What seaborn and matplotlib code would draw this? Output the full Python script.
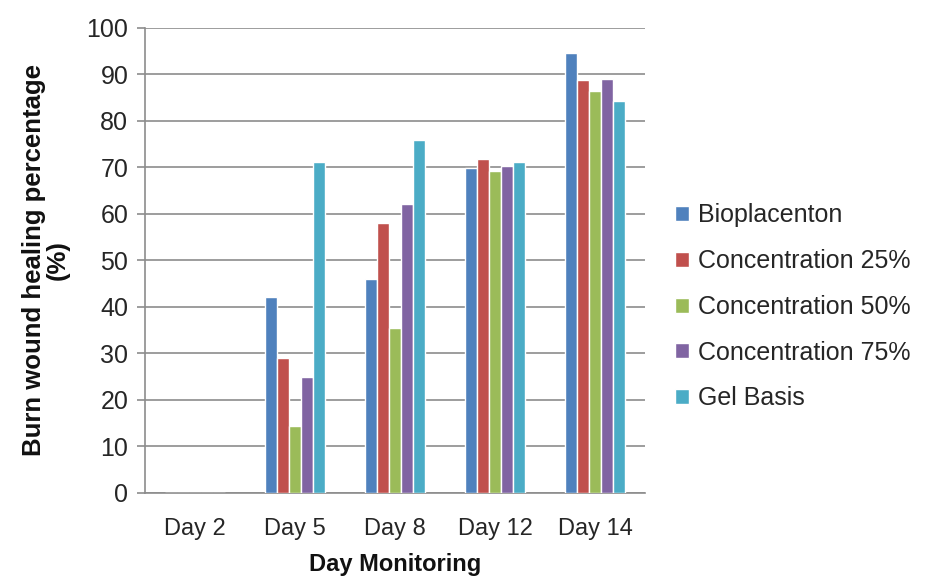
import matplotlib
matplotlib.use("Agg")
import matplotlib.pyplot as plt
import seaborn as sns
import pandas as pd

days = ["Day 2", "Day 5", "Day 8", "Day 12", "Day 14"]
bioplacenton = [0, 42.1, 45.9, 69.9, 94.6]
conc_25 = [0, 29.1, 58.1, 71.9, 88.7]
conc_50 = [0, 14.3, 35.4, 69.3, 86.4]
conc_75 = [0, 25.0, 62.1, 70.3, 88.9]
gel_basis = [0, 71.1, 75.9, 71.1, 84.2]

series = {
    "Bioplacenton": bioplacenton,
    "Concentration 25%": conc_25,
    "Concentration 50%": conc_50,
    "Concentration 75%": conc_75,
    "Gel Basis": gel_basis,
}
colors = ["#4F81BD", "#C0504D", "#9BBB59", "#8064A2", "#4BACC6"]

rows = []
for name, vals in series.items():
    for d, v in zip(days, vals):
        rows.append({"day": d, "group": name, "value": v})
df = pd.DataFrame(rows)

sns.set_theme(style="white")
plt.rcParams["font.family"] = ["Liberation Sans", "DejaVu Sans"]

fig = plt.figure(figsize=(9.35, 5.8), dpi=100)
ax = fig.add_axes([0.155, 0.15, 0.535, 0.802])

sns.barplot(data=df, x="day", y="value", hue="group", order=days,
            hue_order=list(series.keys()), palette=colors, width=0.6,
            saturation=1, errorbar=None, ax=ax, zorder=3)

ax.set_ylim(0, 100)
ax.set_yticks(range(0, 101, 10))
ax.yaxis.grid(True, color="#8c8c8c", linewidth=1.2, zorder=0)
ax.set_axisbelow(True)
for s in ["top", "right"]:
    ax.spines[s].set_visible(False)
for s in ["left", "bottom"]:
    ax.spines[s].set_color("#8c8c8c")
    ax.spines[s].set_linewidth(1.2)
ax.tick_params(axis="y", left=True, length=6, width=1.2, color="#8c8c8c",
               labelsize=18, labelcolor="#262626", pad=6)
ax.tick_params(axis="x", bottom=False, labelsize=17, labelcolor="#262626", pad=12)

ax.set_xlabel("Day Monitoring", fontsize=17, fontweight="bold", color="#111111", labelpad=9)
ax.set_ylabel("Burn wound healing percentage\n(%)", fontsize=18.5, fontweight="bold",
              color="#111111", labelpad=12, linespacing=1.0)

leg = ax.legend(loc="center left", bbox_to_anchor=(1.015, 0.40), frameon=False,
                fontsize=18, handlelength=0.55, handleheight=0.55, handletextpad=0.35,
                labelspacing=0.87, labelcolor="#262626")

fig.savefig("out.png", dpi=100)
